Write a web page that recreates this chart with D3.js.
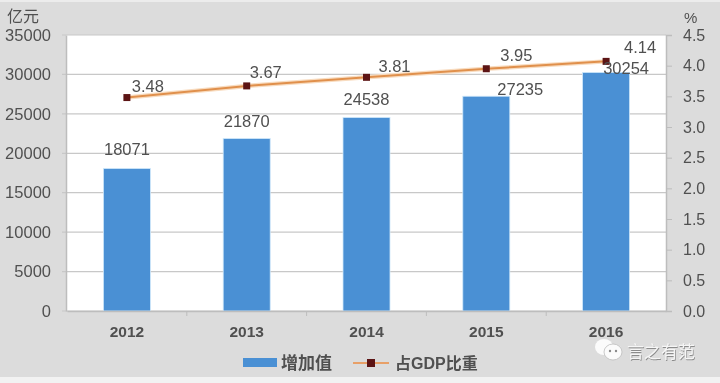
<!DOCTYPE html>
<html>
<head>
<meta charset="utf-8">
<script src="https://cdnjs.cloudflare.com/ajax/libs/d3/7.8.5/d3.min.js"></script>
<style>
html, body { margin: 0; padding: 0; background: #dcdcdc; }
svg { display: block; filter: blur(0.45px); }
text { font-family: "Liberation Sans", "Noto Sans CJK SC", sans-serif; fill: #505050; }
</style>
</head>
<body>
<div id="chart"></div>
<script>
var years = ["2012", "2013", "2014", "2015", "2016"];
var added = [18071, 21870, 24538, 27235, 30254];
var shareLabels = ["3.48", "3.67", "3.81", "3.95", "4.14"];
// marker heights as drawn in the picture (last one sits below its label value)
var share = [3.48, 3.67, 3.81, 3.95, 4.07];
var leftTicks = [0, 5000, 10000, 15000, 20000, 25000, 30000, 35000];
var rightTicks = [0, 0.5, 1, 1.5, 2, 2.5, 3, 3.5, 4, 4.5];
// label offsets from the mark
var barLabelDx = [0, 0, 0, 34, 20];
var barLabelDy = [-13, -12, -13, -1, 2];
var lineLabelDx = [21, 19, 28, 30, 34];
var lineLabelDy = [-6, -8, -5, -8, -8];

var w = 720;
var h = 383;
var left = 66;
var right = 666;
var top_ = 35;
var bottom = 311;

var svg = d3.select("#chart")
    .append("svg")
    .attr("width", w)
    .attr("height", h);

// page background, with the lighter edges of the screenshot
svg.append("rect").attr("width", w).attr("height", h).attr("fill", "#dcdcdc");
svg.append("rect").attr("y", 377).attr("width", w).attr("height", 6).attr("fill", "#f2f2f2");
svg.append("rect").attr("width", w).attr("height", 2).attr("fill", "#ececec");

// Scales
var xScale = d3.scaleBand()
    .domain(years)
    .range([left + 1, right])
    .paddingInner(0)
    .paddingOuter(0);

var yLeft = d3.scaleLinear().domain([0, 35000]).range([bottom, top_]);
var yRight = d3.scaleLinear().domain([0, 4.5]).range([bottom, top_]);

var barWidth = 47;
var cx = d => xScale(d) + xScale.bandwidth() / 2;

// Plot area
svg.append("rect")
    .attr("x", left)
    .attr("y", top_)
    .attr("width", right - left)
    .attr("height", bottom - top_)
    .attr("fill", "#ffffff");

// Gridlines
svg.append("g")
    .selectAll("line")
    .data(leftTicks)
    .enter()
    .append("line")
    .attr("x1", left - 4)
    .attr("x2", right)
    .attr("y1", d => yLeft(d))
    .attr("y2", d => yLeft(d))
    .attr("stroke", "#c8c8c8")
    .attr("stroke-width", 1.2);

// Bars
svg.append("g")
    .selectAll("rect")
    .data(years)
    .enter()
    .append("rect")
    .attr("x", d => cx(d) - barWidth / 2)
    .attr("y", (d, i) => yLeft(added[i]))
    .attr("width", barWidth)
    .attr("height", (d, i) => bottom - yLeft(added[i]))
    .attr("fill", "#4a90d4")
    .attr("stroke", "#cfe8fa")
    .attr("stroke-width", 0.8);

// Axes
var leftAxis = d3.axisLeft(yLeft).tickValues(leftTicks).tickSize(0).tickPadding(15)
    .tickFormat(d3.format("d"));
var rightAxis = d3.axisRight(yRight).tickValues(rightTicks).tickSize(6).tickPadding(11)
    .tickFormat(d3.format(".1f"));
var bottomAxis = d3.axisBottom(xScale).tickSize(0).tickPadding(15);

var gLeft = svg.append("g").attr("transform", `translate(${left},0)`).call(leftAxis);
var gRight = svg.append("g").attr("transform", `translate(${right},0)`).call(rightAxis);
var gBottom = svg.append("g").attr("transform", `translate(0,${bottom})`).call(bottomAxis);

[gLeft, gRight, gBottom].forEach(function (g) {
    g.attr("font-family", null).attr("font-size", null);
    g.selectAll("text").attr("font-size", 16.5);
    g.selectAll(".domain").attr("stroke", "#bdbdbd").attr("stroke-width", 1.5);
    g.selectAll(".tick line").attr("stroke", "#bdbdbd");
});
gRight.selectAll("text").attr("font-size", 16);
gBottom.selectAll("text").attr("font-weight", "bold").attr("font-size", 15.5);

// category tick marks between the years
svg.append("g")
    .selectAll("line")
    .data(years.slice(1))
    .enter()
    .append("line")
    .attr("x1", d => xScale(d))
    .attr("x2", d => xScale(d))
    .attr("y1", bottom)
    .attr("y2", bottom + 5)
    .attr("stroke", "#bdbdbd");

// Share line
var line = d3.line()
    .x(d => cx(d))
    .y((d, i) => yRight(share[i]));

svg.append("path")
    .datum(years)
    .attr("d", line)
    .attr("fill", "none")
    .attr("stroke", "#f8dcc0")
    .attr("stroke-width", 4.5);

svg.append("path")
    .datum(years)
    .attr("d", line)
    .attr("fill", "none")
    .attr("stroke", "#e0904c")
    .attr("stroke-width", 2);

svg.append("g")
    .selectAll("rect")
    .data(years)
    .enter()
    .append("rect")
    .attr("x", d => cx(d) - 3.5)
    .attr("y", (d, i) => yRight(share[i]) - 3.5)
    .attr("width", 7)
    .attr("height", 7)
    .attr("fill", "#5c1414");

// Data labels
svg.append("g")
    .selectAll("text")
    .data(years)
    .enter()
    .append("text")
    .attr("x", (d, i) => cx(d) + barLabelDx[i])
    .attr("y", (d, i) => yLeft(added[i]) + barLabelDy[i])
    .attr("text-anchor", "middle")
    .attr("font-size", 16.5)
    .text((d, i) => added[i]);

svg.append("g")
    .selectAll("text")
    .data(years)
    .enter()
    .append("text")
    .attr("x", (d, i) => cx(d) + lineLabelDx[i])
    .attr("y", (d, i) => yRight(share[i]) + lineLabelDy[i])
    .attr("text-anchor", "middle")
    .attr("font-size", 16.5)
    .text((d, i) => shareLabels[i]);

// Axis units
svg.append("text").attr("x", 7).attr("y", 22).attr("font-size", 16).text("亿元");
svg.append("text").attr("x", 684).attr("y", 23).attr("font-size", 15).text("%");

// Legend
svg.append("rect").attr("x", 243).attr("y", 358).attr("width", 34).attr("height", 9).attr("fill", "#4a90d4");
svg.append("text").attr("x", 281).attr("y", 369).attr("font-size", 17).attr("font-weight", "bold").text("增加值");
svg.append("line").attr("x1", 353).attr("x2", 389).attr("y1", 363).attr("y2", 363)
    .attr("stroke", "#e8a068").attr("stroke-width", 2);
svg.append("rect").attr("x", 367).attr("y", 359).attr("width", 8).attr("height", 8).attr("fill", "#5c1414");
svg.append("text").attr("x", 395).attr("y", 369).attr("font-size", 16).attr("font-weight", "bold").text("占GDP比重");

// Watermark
var mark = svg.append("g");
mark.append("ellipse").attr("cx", 604).attr("cy", 347).attr("rx", 9).attr("ry", 8).attr("fill", "#fbfbfb");
mark.append("ellipse").attr("cx", 613).attr("cy", 352).attr("rx", 9).attr("ry", 8).attr("fill", "#fbfbfb").attr("stroke", "#bcbcbc").attr("stroke-width", 0.8);
mark.append("circle").attr("cx", 610).attr("cy", 351).attr("r", 1.2).attr("fill", "#8a8a8a");
mark.append("circle").attr("cx", 616).attr("cy", 351).attr("r", 1.2).attr("fill", "#8a8a8a");
svg.append("text").attr("x", 627).attr("y", 358).attr("font-size", 17).style("fill", "#f6f6f6")
    .style("text-shadow", "0.7px 0.7px 0.5px #8c8c8c").text("言之有范");
</script>
</body>
</html>
